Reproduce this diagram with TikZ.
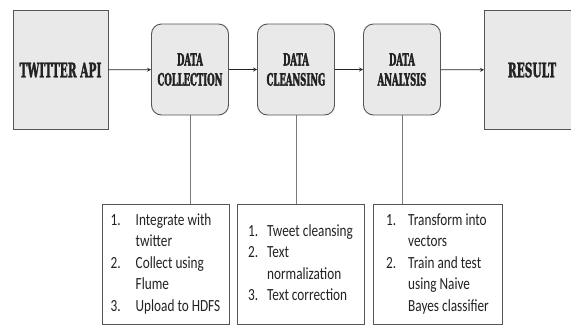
\documentclass[tikz,border=0pt]{standalone}
\usepackage{fontspec}
\newfontfamily\headfont{DejaVu Serif}[FakeStretch=0.53, FakeBold=1.5]
\newfontfamily\stagefont{DejaVu Serif}[FakeStretch=0.5, FakeBold=2]
\newfontfamily\listfont{Carlito}[FakeStretch=0.78]
\definecolor{boxgray}{HTML}{E9E9E9}
\definecolor{edgegray}{HTML}{555555}
\definecolor{linegray}{HTML}{7A7A7A}
\definecolor{inkgray}{HTML}{222222}
\begin{document}
\begin{tikzpicture}
[x=1pt, y=-1pt, node distance=106pt, text=inkgray]
\tikzstyle{endbox}=[rectangle, draw=edgegray, fill=boxgray, line width=0.9pt, minimum width=95pt, minimum height=119pt, font=\headfont\bfseries\fontsize{20}{24}\selectfont]
\tikzstyle{stage}=[rectangle, rounded corners=10pt, draw=edgegray, fill=boxgray, line width=0.9pt, minimum width=77pt, minimum height=91pt, align=center, font=\stagefont\bfseries\fontsize{17}{20}\selectfont]
\tikzstyle{tasks}=[rectangle, draw=edgegray, fill=white, line width=0.8pt, minimum height=120pt, inner sep=0pt, font=\listfont\fontsize{17}{21.5}\selectfont]
\tikzstyle{flow}=[draw=inkgray, line width=0.8pt, -stealth]
\tikzstyle{link}=[draw=linegray, line width=0.8pt]
\useasboundingbox (0,0) rectangle (571,333);

\node[endbox]  (api)      at (60.5,70)   {TWITTER API};
\node[stage]   (collect)  at (190,69.5)  {DATA\\COLLECTION};
\node[stage]   (cleanse)  [right of=collect]  {DATA\\CLEANSING};
\node[stage]   (analysis) [right of=cleanse]  {DATA\\ANALYSIS};
\node[endbox]  (result)   at (532,70)    {RESULT};

\node[tasks, minimum width=127pt] (collecttasks) at (165.5,264)
  {\begin{tabular}{@{}p{25pt}@{}l@{}}
   1. & Integrate with\\ & twitter\\ 2. & Collect using\\ & Flume\\ 3. & Upload to HDFS
   \end{tabular}};
\node[tasks, minimum width=127pt] (cleansetasks) at (300.5,264)
  {\begin{tabular}{@{}p{19pt}@{}l@{}}
   1. & Tweet cleansing\\ 2. & Text\\ & normalization\\ 3. & Text correction
   \end{tabular}};
\node[tasks, minimum width=129pt] (analysistasks) at (437.5,264)
  {\begin{tabular}{@{}p{22pt}@{}l@{}}
   1. & Transform into\\ & vectors\\ 2. & Train and test\\ & using Naive\\ & Bayes classifier
   \end{tabular}};

\draw[flow]  (api)--(collect);
\draw[flow]  (collect)--(cleanse);
\draw[flow]  (cleanse)--(analysis);
\draw[flow]  (analysis)--(result);
\draw[link]  (collect.south)--(collect.south |- collecttasks.north);
\draw[link]  (cleanse.south)--(cleanse.south |- cleansetasks.north);
\draw[link]  (analysis.south)--(analysis.south |- analysistasks.north);
\end{tikzpicture}
\end{document}
